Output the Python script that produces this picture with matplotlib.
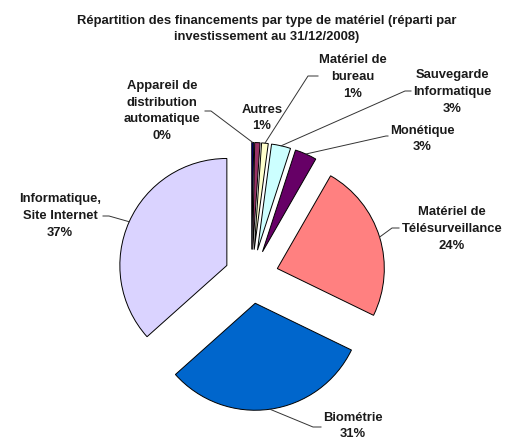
import numpy as np
import matplotlib
matplotlib.use('Agg')
import matplotlib.pyplot as plt

plt.rcParams['font.family'] = ['Liberation Sans', 'DejaVu Sans']

# data, clockwise from 12 o'clock
labels = ['Appareil de\ndistribution\nautomatique', 'Autres', 'Matériel de\nbureau',
          'Sauvegarde\nInformatique', 'Monétique', 'Matériel de\nTélésurveillance',
          'Biométrie', 'Informatique,\nSite Internet']
values = [0.3, 0.8, 1.0, 2.9, 3.3, 23.9, 31.2, 36.6]
colors = ['#000080', '#993366', '#FFFFCC', '#CCFFFF', '#660066', '#FF8080', '#0066CC', '#DAD3FF']

# layout (pixel coords, y up) for labels: text centre, leader start next to text, elbow step
text_pos = [(162, 328), (262, 321), (353, 362), (452, 347), (422, 300), (452, 210), (353, 13), (60, 223)]
lead_pos = [(205, 327), None, (318, 362), (411, 347), (388, 302), (399, 210), (321, 11), (103, 222)]
lead_step = [6, 0, -10, -6, -2, -7, -8, 6]

W, H = 518, 439
cx, cy, r, expl = 251.5, 161.5, 107, 27

fig = plt.figure(figsize=(W / 100, H / 100), dpi=100)
ax = fig.add_axes([0, 0, 1, 1])

wedges, _ = ax.pie(values, colors=colors, startangle=90, counterclock=False,
                   explode=[expl] * len(values), radius=r, center=(cx, cy),
                   wedgeprops=dict(edgecolor='black', linewidth=0.7), frame=True)
ax.set_xlim(0, W)
ax.set_ylim(0, H)
ax.axis('off')

total = sum(values)
for w, lab, v, tp, lp, st in zip(wedges, labels, values, text_pos, lead_pos, lead_step):
    ax.text(tp[0], tp[1], f'{lab}\n{v / total * 100:.0f}%', ha='center', va='center',
            fontsize=9.4, fontweight='bold', linespacing=1.53, color='#1a1a1a')
    if lp is None:
        continue
    mid = np.deg2rad((w.theta1 + w.theta2) / 2)
    px = cx + (r + expl) * np.cos(mid)
    py = cy + (r + expl) * np.sin(mid)
    ax.plot([lp[0], lp[0] + st, px], [lp[1], lp[1], py], color='#333333', lw=0.7)

fig.text(0.5145, 1 - 29 / H, 'Répartition des financements par type de matériel (réparti par\n'
         'investissement au 31/12/2008)', ha='center', va='center', fontsize=9.4,
         fontweight='bold', linespacing=1.53, color='#1a1a1a')

fig.savefig('out.png', dpi=100)
